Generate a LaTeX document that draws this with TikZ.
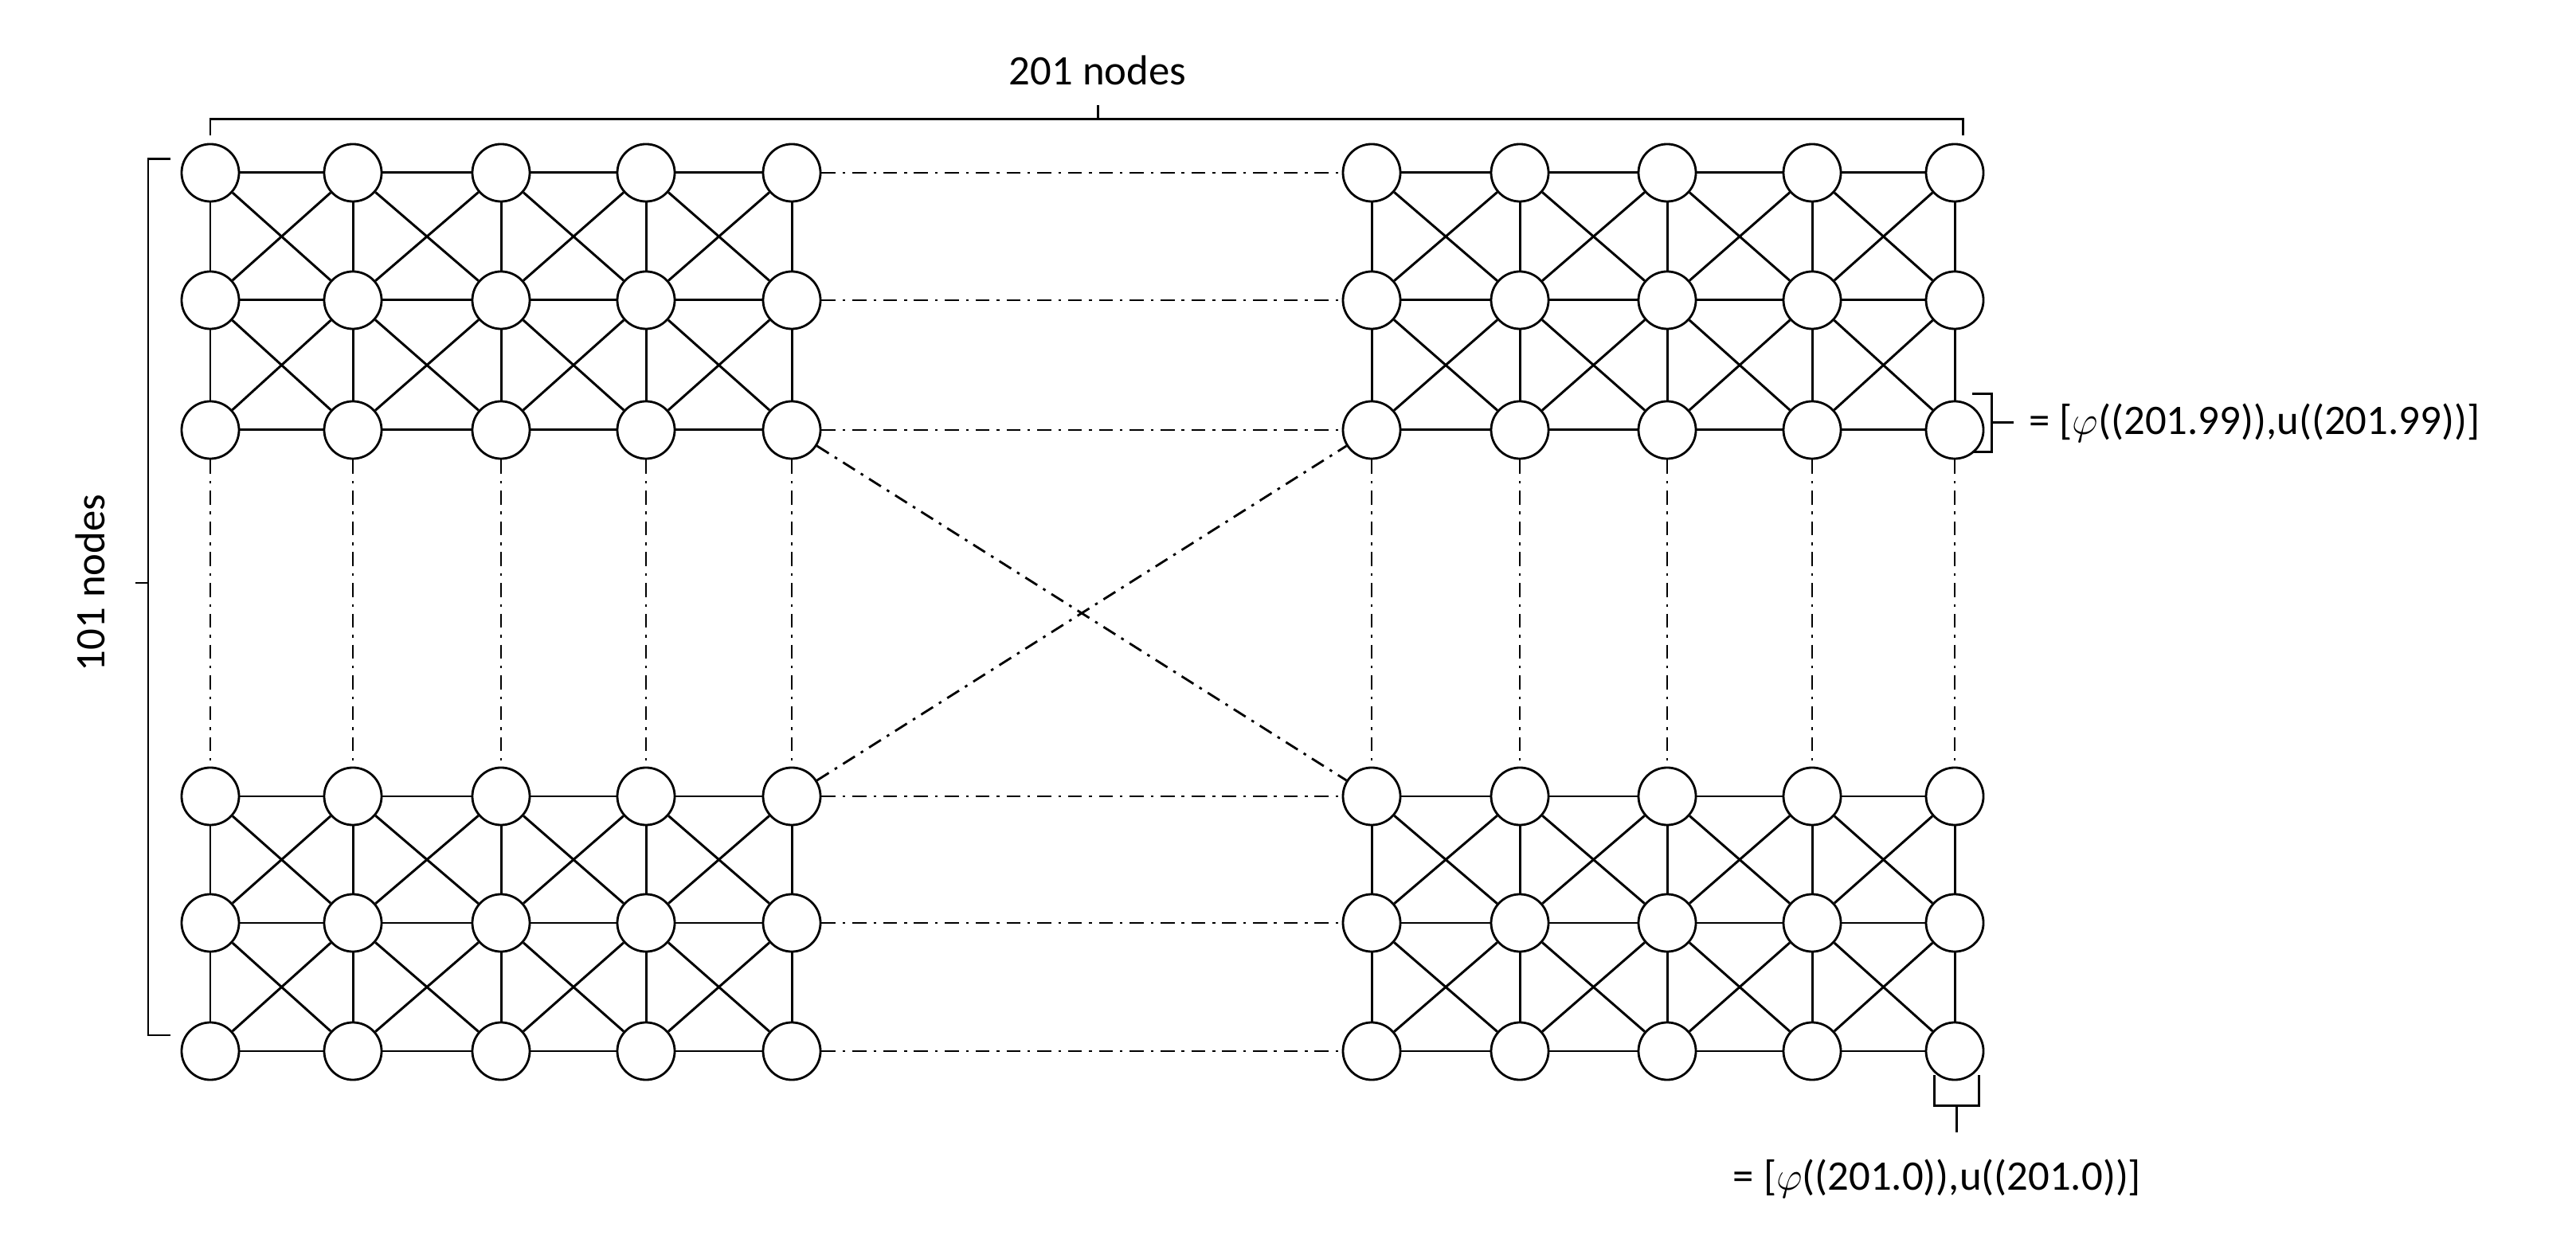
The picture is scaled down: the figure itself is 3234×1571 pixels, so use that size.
\documentclass[tikz,border=0pt]{standalone}
\usepackage{fontspec}
\setmainfont{Carlito}
\begin{document}
\begin{tikzpicture}[x=0.01cm,y=-0.01cm,
  nd/.style={circle,draw,fill=white,line width=0.8pt,minimum size=0.72cm,inner sep=0pt},
  ln/.style={line width=0.85pt},
  dd/.style={line width=0.8pt,dash pattern=on 5pt off 2.5pt on 1pt off 2.5pt},
  lbl/.style={font=\fontsize{15}{18}\selectfont}]
\useasboundingbox (0,0) rectangle (3234,1571);
\def\xs{264,443,629,811,994,1722,1908,2093,2275,2454}
\def\ys{217,377,540,1000,1159,1320}
\foreach \x [count=\i] in \xs {
  \foreach \y [count=\j] in \ys {
    \node[nd] (n\i-\j) at (\x,\y) {};
  }
}
% solid edges inside blocks
\begin{scope}[on background layer/.style={}]
\foreach \b in {0,5}{
  \foreach \rs in {0,3}{
    \foreach \c in {1,...,5}{
      \pgfmathtruncatemacro{\i}{\b+\c}
      \foreach \r in {1,2}{
        \pgfmathtruncatemacro{\j}{\rs+\r}
        \pgfmathtruncatemacro{\jj}{\rs+\r+1}
        \draw[ln] (n\i-\j) -- (n\i-\jj);
      }
    }
    \foreach \c in {1,...,4}{
      \pgfmathtruncatemacro{\i}{\b+\c}
      \pgfmathtruncatemacro{\ii}{\b+\c+1}
      \foreach \r in {1,2,3}{
        \pgfmathtruncatemacro{\j}{\rs+\r}
        \draw[ln] (n\i-\j) -- (n\ii-\j);
      }
      \foreach \r in {1,2}{
        \pgfmathtruncatemacro{\j}{\rs+\r}
        \pgfmathtruncatemacro{\jj}{\rs+\r+1}
        \draw[ln] (n\i-\j) -- (n\ii-\jj);
        \draw[ln] (n\ii-\j) -- (n\i-\jj);
      }
    }
  }
}
\end{scope}
% dash-dot links
\foreach \j in {1,...,6} \draw[dd] (n5-\j) -- (n6-\j);
\foreach \i in {1,...,10} \draw[dd] (n\i-3) -- (n\i-4);
\draw[dd] (n5-3) -- (n6-4);
\draw[dd] (n5-4) -- (n6-3);
% top brace
\coordinate (tl) at (264,150); \coordinate (tr) at (2464,150); \coordinate (tm) at (1378,150);
\draw[ln] (264,170) -- (tl) -- (tr) -- (2464,170);
\draw[ln] (tm) -- (1378,132);
\node[lbl] (t201) at (1378,88) {201 nodes};
% left brace
\coordinate (ll) at (186,200); \coordinate (lb) at (186,1300); \coordinate (lm) at (170,732);
\draw[ln] (214,200) -- (ll) -- (lb) -- (214,1300);
\draw[ln] (186,732) -- (lm);
\node[lbl,rotate=90] (t101) at (113,732) {101 nodes};
% right brace
\draw[ln] (2476,495) -- (2500,495) -- (2500,568) -- (2476,568);
\coordinate (rm) at (2528,531);
\draw[ln] (2500,531) -- (rm);
\node[lbl,anchor=west] (tr99) at (2535,531) {= [$\varphi$((201.99)),u((201.99))]};
% bottom brace
\draw[ln] (2428,1350) -- (2428,1388) -- (2484,1388) -- (2484,1350);
\coordinate (bm) at (2456,1422);
\draw[ln] (2456,1388) -- (bm);
\node[lbl] (tb0) at (2432,1480) {= [$\varphi$((201.0)),u((201.0))]};
\end{tikzpicture}
\end{document}
